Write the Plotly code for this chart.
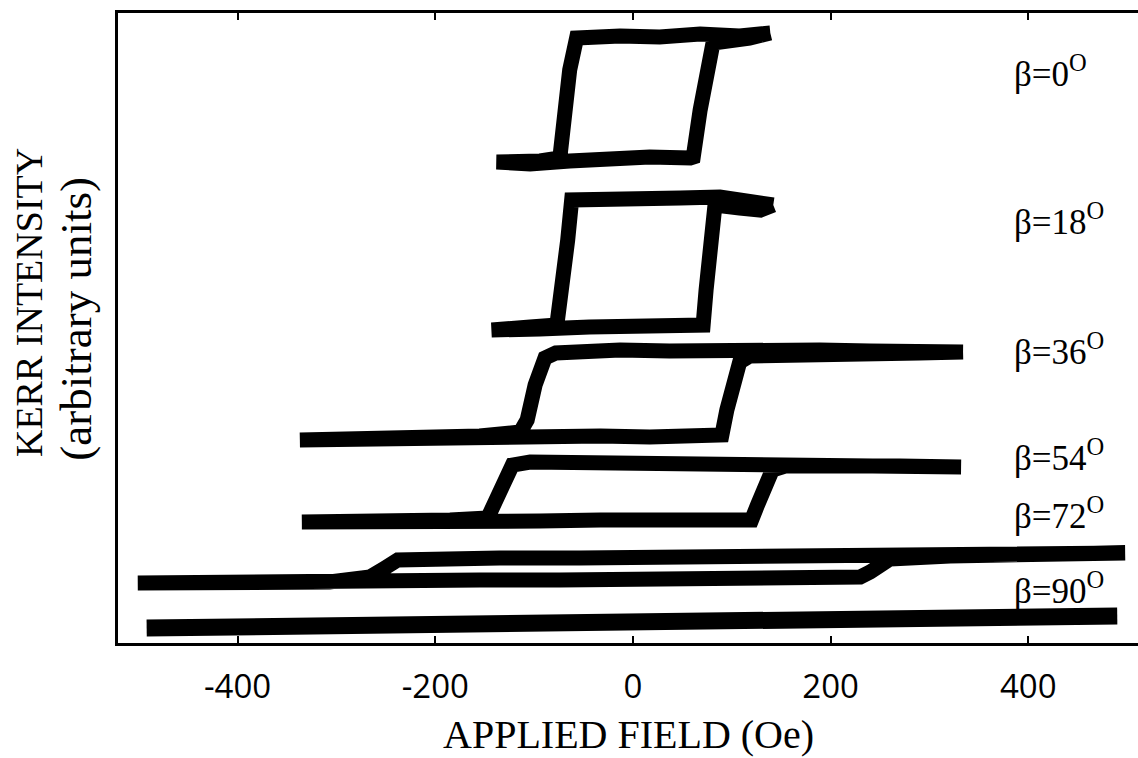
import plotly.graph_objects as go

# Kerr hysteresis loops vs applied field for several field angles beta.
# Each loop: field (Oe) and Kerr intensity (arbitrary, offset per curve),
# traced from +Hmax down to -Hmax and back up again.

h_b0 = [139, 108, 68, 27, -13, -44, -57, -64, -69, -74, -94, -114, -138,
        -104, -64, -23, 17, 58, 61, 68, 75, 81, 118, 139]
k_b0 = [610, 607, 609, 606, 607, 606, 605, 573, 523, 485, 482, 483, 481,
        479, 482, 485, 486, 485, 486, 533, 573, 600, 605, 610]

h_b18 = [142, 118, 88, 48, 7, -33, -62, -66, -72, -77, -104, -143,
         -94, -44, 7, 58, 71, 74, 78, 83, 108, 129, 142]
k_b18 = [438, 443, 446, 445, 444, 446, 443, 403, 353, 318, 316, 313,
         314, 316, 317, 316, 318, 353, 403, 438, 435, 433, 438]

h_b36 = [334, 290, 240, 189, 139, 88, 37, -13, -59, -78, -89, -99, -107, -114,
         -155, -205, -256, -296, -337,
         -286, -236, -185, -135, -84, -33, 17, 68, 90, 95, 101, 108, 118,
         169, 230, 290, 334]
k_b36 = [291, 293, 292, 293, 292, 293, 292, 293, 292, 290, 285, 258, 223, 211,
         207, 206, 205, 205, 203,
         205, 206, 206, 207, 206, 207, 206, 207, 208, 233, 263, 281, 287,
         289, 291, 290, 291]

h_b54 = [332, 280, 230, 179, 128, 68, 7, -54, -104, -122, -130, -140, -147,
         -185, -236, -286, -335,
         -276, -215, -155, -94, -33, 27, 88, 120, 126, 134, 141, 154,
         209, 270, 332]
k_b54 = [176, 177, 178, 179, 178, 179, 180, 180, 181, 178, 163, 138, 125,
         123, 122, 121, 121,
         121, 122, 123, 122, 123, 122, 123, 123, 138, 158, 173, 177,
         178, 177, 176]

h_b72 = [498, 432, 371, 311, 255, 189, 108, 27, -54, -135, -216, -238, -251, -266,
         -307, -367, -428, -501,
         -438, -377, -307, -236, -155, -74, 7, 88, 169, 230, 240, 250, 260,
         321, 392, 498]
k_b72 = [90, 89, 88, 87, 86, 85, 85, 85, 85, 85, 85, 83, 75, 66,
         61, 60, 59, 60,
         59, 60, 61, 63, 63, 63, 64, 65, 65, 66, 71, 78, 84,
         87, 88, 90]

h_b90 = [-492, -388, -286, -185, -84, 17, 118, 220, 321, 422, 490]
k_b90 = [15, 16, 17, 17, 18, 19, 20, 22, 23, 25, 27]

curves = [(h_b0, k_b0, 15), (h_b18, k_b18, 15), (h_b36, k_b36, 15),
          (h_b54, k_b54, 15), (h_b72, k_b72, 15), (h_b90, k_b90, 17)]

beta_labels = ["β=0<sup>O</sup>", "β=18<sup>O</sup>", "β=36<sup>O</sup>",
               "β=54<sup>O</sup>", "β=72<sup>O</sup>", "β=90<sup>O</sup>"]
label_k = [572, 424, 294, 188, 130, 55]

x_ticks = [-400, -200, 0, 200, 400]

SERIF = "Liberation Serif, Times New Roman, serif"
SANS = "Open Sans, sans-serif"

fig = go.Figure()
for h, k, w in curves:
    fig.add_trace(go.Scatter(x=h, y=k, mode="lines",
                             line=dict(color="black", width=w),
                             hoverinfo="skip", showlegend=False))

for txt, ky in zip(beta_labels, label_k):
    fig.add_annotation(x=384, y=ky, xref="x", yref="y", text=txt,
                       showarrow=False, xanchor="left", yanchor="middle",
                       font=dict(family=SERIF, size=35, color="black"))

fig.add_annotation(x=0.5, y=-0.145, xref="paper", yref="paper",
                   text="APPLIED FIELD (Oe)", showarrow=False,
                   xanchor="center", yanchor="middle",
                   font=dict(family=SERIF, size=40, color="black"))
fig.add_annotation(x=-0.087, y=0.54, xref="paper", yref="paper",
                   text="KERR INTENSITY", showarrow=False, textangle=-90,
                   xanchor="center", yanchor="middle",
                   font=dict(family=SERIF, size=38, color="black"))
fig.add_annotation(x=-0.042, y=0.515, xref="paper", yref="paper",
                   text="(arbitrary units)", showarrow=False, textangle=-90,
                   xanchor="center", yanchor="middle",
                   font=dict(family=SERIF, size=45, color="black"))

fig.update_layout(
    width=1138, height=758,
    margin=dict(l=118, r=0, t=13, b=115),
    paper_bgcolor="white", plot_bgcolor="white",
    xaxis=dict(range=[-521, 511], tickvals=x_ticks,
               ticktext=[str(v) for v in x_ticks],
               showgrid=False, zeroline=False,
               showline=True, linecolor="black", linewidth=3, mirror="ticks",
               ticks="inside", ticklen=7, tickwidth=2, tickcolor="black",
               ticklabelstandoff=12,
               tickfont=dict(family=SANS, size=33, color="black")),
    yaxis=dict(range=[0, 630], showticklabels=False, ticks="",
               showgrid=False, zeroline=False,
               showline=True, linecolor="black", linewidth=3, mirror=False),
)

fig.write_html("out.html")
